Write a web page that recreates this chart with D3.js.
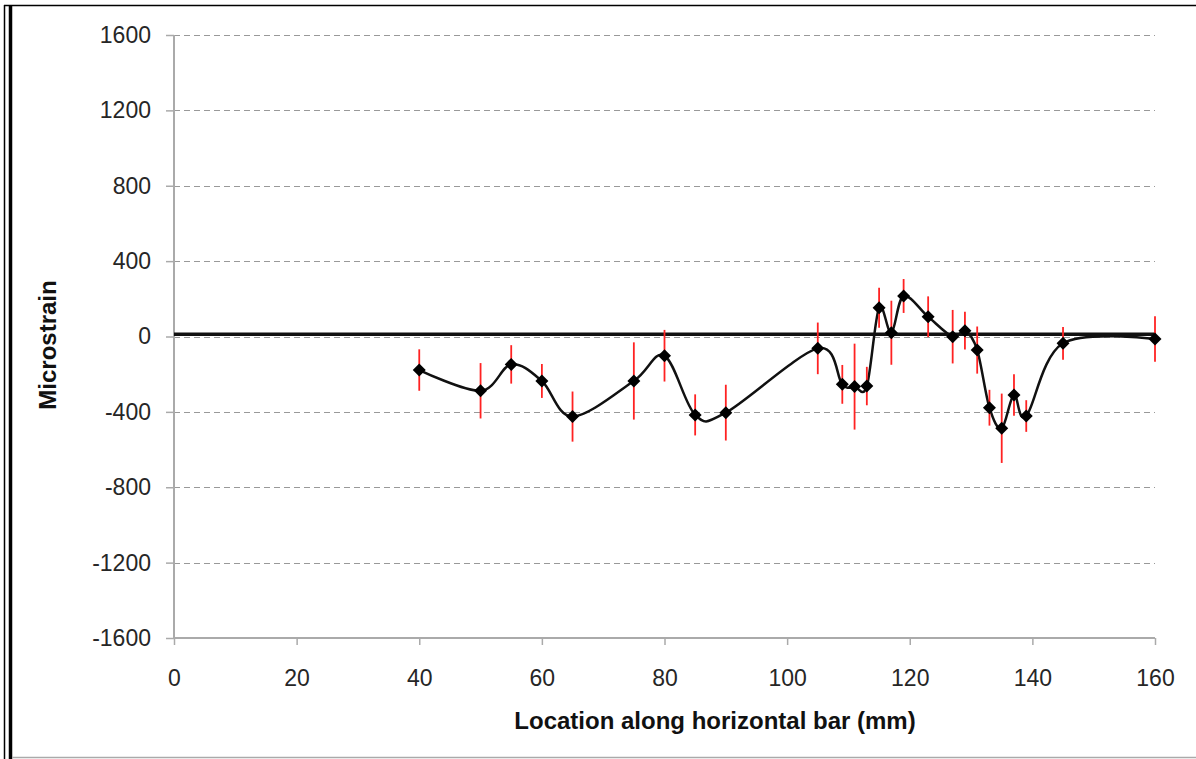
<!DOCTYPE html>
<html>
<head>
<meta charset="utf-8">
<script src="https://cdnjs.cloudflare.com/ajax/libs/d3/7.8.5/d3.min.js"></script>
<style>
  body { margin: 0; background: #fff; }
  .tick text { font-family: "Liberation Sans", Arial, sans-serif; font-size: 23px; fill: #262626; }
  .axisTitle { font-family: "Liberation Sans", Arial, sans-serif; font-size: 24px; font-weight: bold; fill: #111; }
</style>
</head>
<body>
<div class="chart"></div>
<script>
// Data
var locations = [40, 50, 55, 60, 65, 75, 80, 85, 90, 105, 109, 111, 113, 115, 117, 119, 123, 127, 129, 131, 133, 135, 137, 139, 145, 160];
var strains   = [-178, -288, -148, -236, -425, -236, -102, -416, -404, -63, -254, -266, -263, 153, 20, 215, 105, -1, 31, -72, -378, -487, -310, -422, -36, -13];
var errors    = [110, 147, 102, 90, 133, 205, 137, 109, 148, 137, 103, 228, 102, 106, 170, 90, 108, 142, 100, 125, 95, 184, 110, 84, 87, 121];
var refLevel  = [12, 12];
var refX      = [0, 160];
var xTicks = [0, 20, 40, 60, 80, 100, 120, 140, 160];
var yTicks = [-1600, -1200, -800, -400, 0, 400, 800, 1200, 1600];

var svgWidth = 1196;
var svgHeight = 759;
var margin = { top: 35, right: 41, bottom: 121, left: 174 };
var width = svgWidth - margin.left - margin.right;
var height = svgHeight - margin.top - margin.bottom;

var svg = d3.select(".chart")
  .append("svg")
  .attr("width", svgWidth)
  .attr("height", svgHeight)
  .style("display", "block");

// frame around the picture
svg.append("line").attr("x1", 4).attr("x2", 1196).attr("y1", 5.5).attr("y2", 5.5)
  .attr("stroke", "#000").attr("stroke-width", 1.5);
svg.append("line").attr("x1", 4.5).attr("x2", 4.5).attr("y1", 5).attr("y2", 759)
  .attr("stroke", "#000").attr("stroke-width", 1.5);
svg.append("line").attr("x1", 10.5).attr("x2", 10.5).attr("y1", 5).attr("y2", 759)
  .attr("stroke", "#000").attr("stroke-width", 3.5);
svg.append("line").attr("x1", 12).attr("x2", 1196).attr("y1", 757.5).attr("y2", 757.5)
  .attr("stroke", "#aaa").attr("stroke-width", 1.5);

var chartGroup = svg.append("g")
  .attr("transform", `translate(${margin.left}, ${margin.top})`);

var xScale = d3.scaleLinear().domain([0, 160]).range([0, width]);
var yScale = d3.scaleLinear().domain([-1600, 1600]).range([height, 0]);

// gridlines
chartGroup.selectAll(".grid")
  .data(yTicks.filter(d => d !== -1600))
  .enter()
  .append("line")
  .attr("class", "grid")
  .attr("x1", 0)
  .attr("x2", width)
  .attr("y1", d => Math.round(yScale(d)) + 0.5)
  .attr("y2", d => Math.round(yScale(d)) + 0.5)
  .attr("stroke", "#999")
  .attr("stroke-width", 1.2)
  .attr("stroke-dasharray", "6,4");

// axes
var fmt = d => String(d).replace("\u2212", "-");
var bottomAxis = d3.axisBottom(xScale).tickValues(xTicks).tickFormat(fmt).tickSize(7).tickSizeOuter(0).tickPadding(25);
var leftAxis = d3.axisLeft(yScale).tickValues(yTicks).tickFormat(fmt).tickSize(8).tickSizeOuter(0).tickPadding(15);

var xAxisG = chartGroup.append("g")
  .attr("transform", `translate(0, ${height})`)
  .call(bottomAxis);
var yAxisG = chartGroup.append("g").call(leftAxis);

[xAxisG, yAxisG].forEach(function(g) {
  g.select(".domain").attr("stroke", "#aaa").attr("stroke-width", 2);
  g.selectAll(".tick line").attr("stroke", "#aaa").attr("stroke-width", 1.5);
});
xAxisG.select(".domain").attr("d", `M0,0H${width}`);
yAxisG.select(".domain").attr("d", `M0,0V${height}`);

// reference line near zero
chartGroup.append("path")
  .datum(refX.map((d, i) => [d, refLevel[i]]))
  .attr("fill", "none")
  .attr("stroke", "#111")
  .attr("stroke-width", 3.5)
  .attr("d", d3.line().x(d => xScale(d[0])).y(d => yScale(d[1])));

var points = locations.map((d, i) => ({ x: d, y: strains[i], e: errors[i] }));

// smoothed line
chartGroup.append("path")
  .datum(points)
  .attr("fill", "none")
  .attr("stroke", "#111")
  .attr("stroke-width", 2.5)
  .attr("d", d3.line().curve(d3.curveCardinal.tension(0)).x(d => xScale(d.x)).y(d => yScale(d.y)));

// error bars
chartGroup.selectAll(".err")
  .data(points)
  .enter()
  .append("line")
  .attr("class", "err")
  .attr("x1", d => xScale(d.x))
  .attr("x2", d => xScale(d.x))
  .attr("y1", d => yScale(d.y + d.e))
  .attr("y2", d => yScale(d.y - d.e))
  .attr("stroke", "#f22")
  .attr("stroke-width", 1.8);

// diamond markers
chartGroup.selectAll(".marker")
  .data(points)
  .enter()
  .append("path")
  .attr("class", "marker")
  .attr("transform", d => `translate(${xScale(d.x)}, ${yScale(d.y)})`)
  .attr("d", "M0,-6.5L6.5,0L0,6.5L-6.5,0Z")
  .attr("fill", "#000");

// axis titles
chartGroup.append("text")
  .attr("class", "axisTitle")
  .attr("transform", `translate(${-118}, ${310}) rotate(-90)`)
  .attr("text-anchor", "middle")
  .text("Microstrain");

chartGroup.append("text")
  .attr("class", "axisTitle")
  .attr("x", 541)
  .attr("y", 694)
  .attr("text-anchor", "middle")
  .text("Location along horizontal bar (mm)");
</script>
</body>
</html>
